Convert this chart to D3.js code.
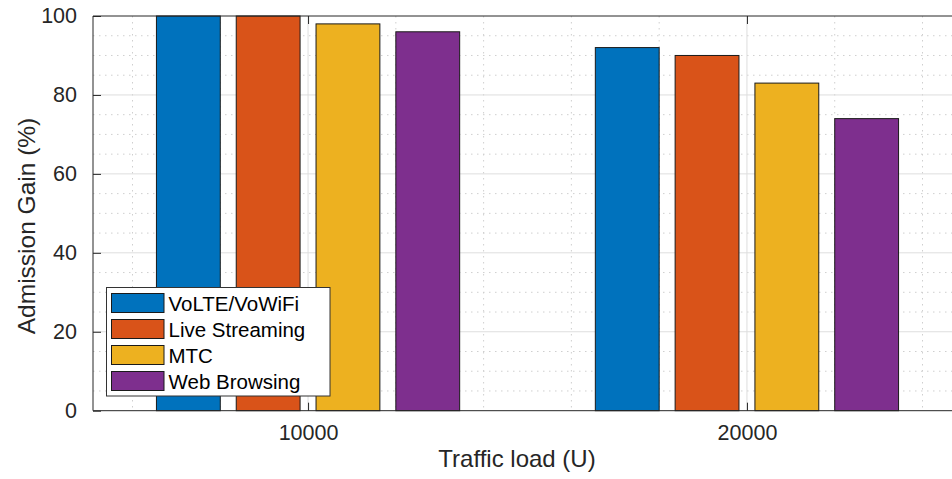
<!DOCTYPE html>
<html>
<head>
<meta charset="utf-8">
<script src="https://cdn.jsdelivr.net/npm/d3@7"></script>
<style>
  html, body { margin: 0; padding: 0; background: #fff; }
  svg { display: block; font-family: "Liberation Sans", Arial, Helvetica, sans-serif; }
</style>
</head>
<body>
<div id="chart"></div>
<script>
// ---- data ----
const categories = [10000, 20000];
const seriesNames = ["VoLTE/VoWiFi", "Live Streaming", "MTC", "Web Browsing"];
const volte = [100, 92];
const liveStreaming = [100, 90];
const mtc = [98, 83];
const webBrowsing = [96, 74];
const yTicks = [0, 20, 40, 60, 80, 100];
const xTicks = [10000, 20000];
const xLabel = "Traffic load (U)";
const yLabel = "Admission Gain (%)";

const seriesValues = [volte, liveStreaming, mtc, webBrowsing];
const colors = ["#0072BD", "#D95319", "#EDB120", "#7E2F8E"];

(function () {
// ---- layout ----
const W = 952, H = 479;
const pL = 93, pT = 16, pB = 410.7, pR = 962;
const fontFam = "'Liberation Sans', Arial, Helvetica, sans-serif";

const svg = d3.select("#chart").append("svg")
  .attr("width", W).attr("height", H);

const x = d3.scaleLinear().domain([5100, 24900]).range([pL, pR]);
const y = d3.scaleLinear().domain([0, 100]).range([pB, pT]);

const g = svg.append("g");

// minor grid (dotted)
const xMinor = d3.range(6000, 24001, 2000).filter(v => !xTicks.includes(v));
const yMinor = d3.range(5, 100, 5).filter(v => !yTicks.includes(v));
g.selectAll(".xminor").data(xMinor).join("line")
  .attr("x1", d => x(d)).attr("x2", d => x(d))
  .attr("y1", pT).attr("y2", pB)
  .attr("stroke", "#cfcfcf").attr("stroke-width", 1)
  .attr("stroke-dasharray", "1.5,4.5");
g.selectAll(".yminor").data(yMinor).join("line")
  .attr("x1", pL).attr("x2", pR)
  .attr("y1", d => y(d)).attr("y2", d => y(d))
  .attr("stroke", "#cfcfcf").attr("stroke-width", 1)
  .attr("stroke-dasharray", "1.5,4.5");

// major grid
g.selectAll(".xmajor").data(xTicks).join("line")
  .attr("x1", d => x(d)).attr("x2", d => x(d))
  .attr("y1", pT).attr("y2", pB)
  .attr("stroke", "#dedede").attr("stroke-width", 1);
g.selectAll(".ymajor").data(yTicks.filter(v => v > 0 && v < 100)).join("line")
  .attr("x1", pL).attr("x2", pR)
  .attr("y1", d => y(d)).attr("y2", d => y(d))
  .attr("stroke", "#dedede").attr("stroke-width", 1);

// bars (MATLAB grouped bar geometry)
const n = seriesValues.length;
const spacing = categories[1] - categories[0];
const groupW = Math.min(0.8, n / (n + 1.5)) * spacing;
const barW = groupW / n * 0.8;
seriesValues.forEach((vals, i) => {
  const off = -groupW / 2 + (2 * i + 1) * groupW / (2 * n);
  g.selectAll(".bar" + i).data(vals).join("rect")
    .attr("class", "bar" + i)
    .attr("x", (d, j) => x(categories[j] + off - barW / 2))
    .attr("width", x(barW) - x(0))
    .attr("y", d => y(d))
    .attr("height", d => y(0) - y(d))
    .attr("fill", colors[i])
    .attr("stroke", "#1a1a1a").attr("stroke-width", 1);
});

// axes frame
const axisColor = "#262626";
svg.append("line").attr("x1", pL).attr("x2", pR).attr("y1", pT).attr("y2", pT)
  .attr("stroke", axisColor).attr("stroke-width", 1);
svg.append("line").attr("x1", pL).attr("x2", pR).attr("y1", pB).attr("y2", pB)
  .attr("stroke", axisColor).attr("stroke-width", 1);
svg.append("line").attr("x1", pL).attr("x2", pL).attr("y1", pT).attr("y2", pB)
  .attr("stroke", axisColor).attr("stroke-width", 1);

// y axis ticks + labels
const yAxis = d3.axisLeft(y).tickValues(yTicks).tickSize(-8).tickPadding(16).tickFormat(d3.format("d"));
const ya = svg.append("g").attr("transform", `translate(${pL},0)`).call(yAxis);
ya.select(".domain").remove();
ya.selectAll("line").attr("stroke", axisColor);
ya.selectAll("text").attr("fill", axisColor).style("font-size", "21.5px")
  .style("font-family", fontFam);

// x axis ticks (bottom + top)
const xAxis = d3.axisBottom(x).tickValues(xTicks).tickSize(-8).tickPadding(14).tickFormat(d3.format("d"));
const xa = svg.append("g").attr("transform", `translate(0,${pB})`).call(xAxis);
xa.select(".domain").remove();
xa.selectAll("line").attr("stroke", axisColor);
xa.selectAll("text").attr("fill", axisColor).style("font-size", "21.5px")
  .style("font-family", fontFam);
const xTop = d3.axisTop(x).tickValues(xTicks).tickSize(-8).tickFormat("");
const xt = svg.append("g").attr("transform", `translate(0,${pT})`).call(xTop);
xt.select(".domain").remove();
xt.selectAll("line").attr("stroke", axisColor);

// axis labels
svg.append("text").attr("x", 517).attr("y", 467)
  .attr("text-anchor", "middle").attr("fill", axisColor)
  .style("font-size", "24px").text(xLabel);
svg.append("text")
  .attr("transform", "translate(35,226) rotate(-90)")
  .attr("text-anchor", "middle").attr("fill", axisColor)
  .style("font-size", "24.5px").text(yLabel);

// legend
const lg = svg.append("g");
lg.append("rect").attr("x", 106.5).attr("y", 287.5).attr("width", 223.5).attr("height", 108.5)
  .attr("fill", "#fff").attr("stroke", "#333").attr("stroke-width", 1);
seriesNames.forEach((name, i) => {
  const yy = 293.5 + i * 26;
  lg.append("rect").attr("x", 111.5).attr("y", yy).attr("width", 52.5).attr("height", 19)
    .attr("fill", colors[i]).attr("stroke", "#1a1a1a").attr("stroke-width", 1);
  lg.append("text").attr("x", 168.5).attr("y", yy + 17)
    .attr("fill", "#000").style("font-size", "20.5px").text(name);
});
})();
</script>
</body>
</html>
